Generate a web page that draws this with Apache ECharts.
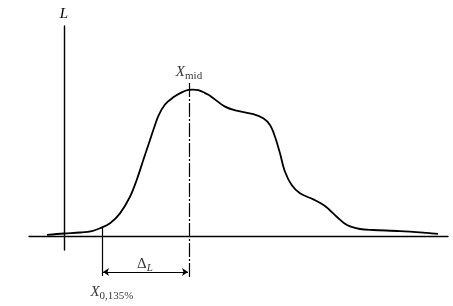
<!DOCTYPE html>
<html>
<head>
<meta charset="utf-8">
<script src="https://cdn.jsdelivr.net/npm/echarts@6/dist/echarts.min.js"></script>
<style>html,body{margin:0;padding:0;background:#fff}#c{width:453px;height:306px}</style>
</head>
<body>
<div id="c"></div>
<script>
// Curve (distribution): x in arbitrary units, L with peak = 100
const curveX = [-1.7, 0, 1.6, 2.8, 3.6, 4.6, 5.6, 6.6, 7.27, 7.93, 8.5, 9.0, 9.45, 10.1, 10.93, 11.77, 12.43, 12.9, 13.43, 14.1, 14.6, 16.1, 17.27, 18.93, 19.93, 20.6, 21.1, 21.6, 22.1, 22.77, 23.6, 24.93, 26.1, 27.3, 28.3, 29.6, 30.9, 33.6, 36.3, 37.4];
const curveL = [0.7, 1.7, 2.4, 3.4, 5.3, 8.7, 15.5, 26.9, 38.4, 52.1, 63.7, 74.0, 82.5, 90.1, 95.0, 98.4, 100.1, 100.3, 100, 97.9, 96.1, 88.6, 85.8, 83.4, 80.6, 76.0, 68.0, 56.6, 44.0, 34.9, 29.2, 25.1, 20.5, 13.0, 7.5, 4.8, 4.1, 3.4, 2.1, 1.4];
// Annotation positions
const xMid = 12.5;
const x0135 = 3.8;
const x0135Curve = 5.8;
const deltaY = -24.7;
const midTop = 104.8;
const lineBottom = -28.1;
const axisLabel = 'L';

const curve = curveX.map((x, i) => [x, curveL[i]]);
const chart = echarts.init(document.getElementById('c'));
const serif = '"Liberation Serif", "DejaVu Serif", serif';
chart.setOption({
  animation: false,
  grid: { left: 29, right: 5, top: 26, bottom: 56 },
  xAxis: {
    type: 'value', min: -3.5, max: 38.4,
    axisLine: { onZero: true, lineStyle: { color: '#000', width: 1.4 } },
    axisTick: { show: false }, axisLabel: { show: false }, splitLine: { show: false }
  },
  yAxis: {
    type: 'value', min: -9.589, max: 143.84,
    name: axisLabel, nameGap: 4,
    nameTextStyle: { fontFamily: serif, fontStyle: 'italic', fontSize: 15, color: '#000' },
    axisLine: { onZero: true, lineStyle: { color: '#000', width: 1.4 } },
    axisTick: { show: false }, axisLabel: { show: false }, splitLine: { show: false }
  },
  series: [
    {
      type: 'line', data: curve, smooth: 0.35, symbol: 'none',
      lineStyle: { color: '#000', width: 1.8 }, clip: false
    },
    {
      type: 'lines', coordinateSystem: 'cartesian2d', clip: false,
      lineStyle: { color: '#000', width: 1.2, opacity: 1, type: [14, 2, 2, 2] },
      data: [{ coords: [[xMid, midTop], [xMid, lineBottom]] }]
    },
    {
      type: 'lines', coordinateSystem: 'cartesian2d', clip: false,
      lineStyle: { color: '#000', width: 1.2, opacity: 1 },
      data: [{ coords: [[x0135, x0135Curve], [x0135, lineBottom + 0.7]] }]
    },
    {
      type: 'lines', coordinateSystem: 'cartesian2d', clip: false,
      symbol: ['arrow', 'arrow'], symbolSize: 6,
      lineStyle: { color: '#000', width: 1.1, opacity: 1 },
      data: [{ coords: [[x0135 + 0.1, deltaY], [xMid - 0.1, deltaY]] }]
    },
    {
      type: 'scatter', symbolSize: 0, clip: false,
      label: {
        show: true, position: 'inside', color: '#000',
        formatter: p => p.data.t,
        rich: {
          i: { fontFamily: serif, fontStyle: 'italic', fontSize: 15, color: '#000' },
          u: { fontFamily: serif, fontSize: 15, color: '#000' },
          s: { fontFamily: serif, fontSize: 11, color: '#000', padding: [8, 0, 0, 0] },
          si: { fontFamily: serif, fontStyle: 'italic', fontSize: 11, color: '#000', padding: [8, 0, 0, 0] }
        }
      },
      data: [
        { value: [12.5, 112], t: '{i|X}{s|mid}' },
        { value: [8.1, -19], t: '{u|Δ}{si|L}' },
        { value: [4.8, -38.5], t: '{i|X}{s|0,135%}' }
      ]
    }
  ]
});
</script>
</body>
</html>
